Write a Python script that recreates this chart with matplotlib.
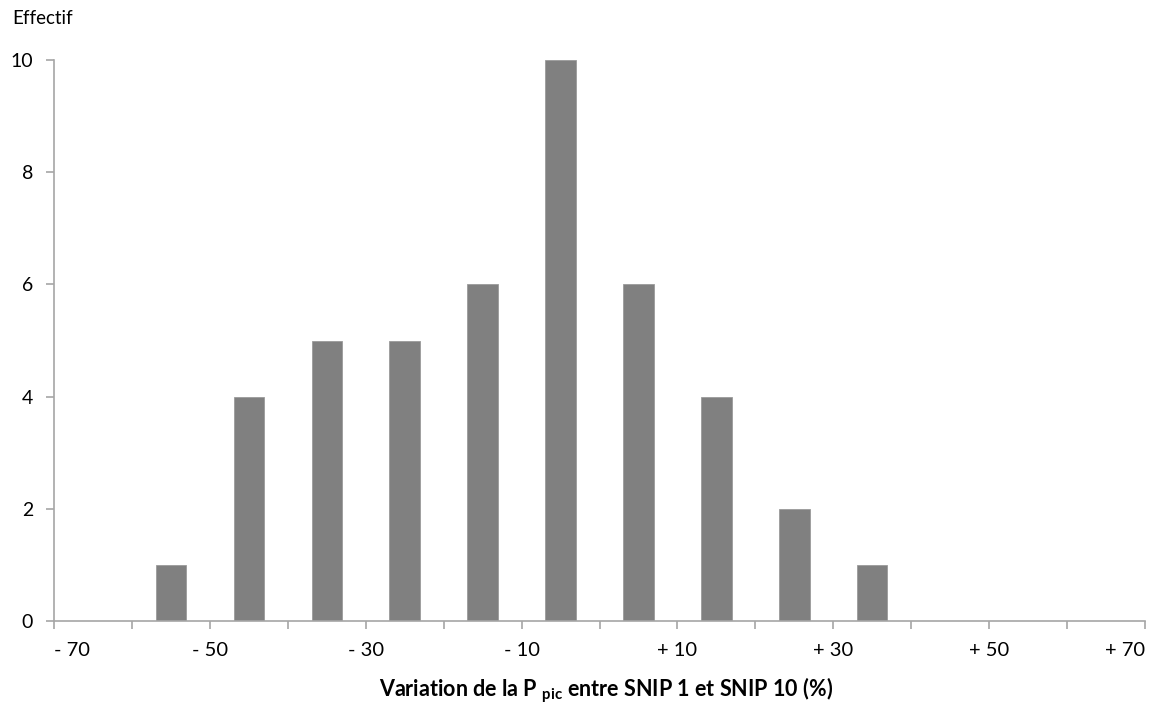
import matplotlib.pyplot as plt

plt.rcParams['font.family'] = ['Lato', 'DejaVu Sans']
plt.rcParams['mathtext.fontset'] = 'custom'
plt.rcParams['mathtext.bf'] = 'Lato:bold'
plt.rcParams['mathtext.rm'] = 'Lato'

# centres des classes (%) et effectifs
centres = [-55, -45, -35, -25, -15, -5, 5, 15, 25, 35]
effectifs = [1, 4, 5, 5, 6, 10, 6, 4, 2, 1]
etiquettes = ['- 70', '- 50', '- 30', '- 10', '+ 10', '+ 30', '+ 50', '+ 70']
pos_etiquettes = [-70, -50, -30, -10, 10, 30, 50, 70]

gris = '#a6a6a6'

fig = plt.figure(figsize=(11.64, 7.06), dpi=100)
ax = fig.add_axes([54/1164, (706-621)/706, (1145-54)/1164, (621-60)/706])

ax.bar(centres, effectifs, width=3.9, color='#808080', edgecolor='#9a9a9a', linewidth=0.6)

ax.set_xlim(-70, 70)
ax.set_ylim(0, 10)
ax.set_yticks(range(0, 11, 2))
ax.set_xticks(range(-70, 71, 10))
ax.set_xticklabels([])
ax.tick_params(axis='both', direction='out', length=6, color=gris, width=1.2,
               labelsize=14, colors='black')
ax.tick_params(axis='y', pad=9)

for s in ['top', 'right']:
    ax.spines[s].set_visible(False)
for s in ['left', 'bottom']:
    ax.spines[s].set_color(gris)
    ax.spines[s].set_linewidth(1.2)

# étiquettes de l'axe x
for x, t in zip(pos_etiquettes, etiquettes):
    ha = 'center'
    if x == -70:
        ha = 'left'
    elif x == 70:
        ha = 'right'
    ax.text(x, -0.38, t, ha=ha, va='top', fontsize=14.5)

fig.text(12/1164, 1 - 18/706, 'Effectif', ha='left', va='center', fontsize=13.5)
fig.text(606/1164, 1 - 690/706,
         r'Variation de la P $_{\mathbf{pic}}$ entre SNIP 1 et SNIP 10 (%)',
         ha='center', va='center', fontsize=15.5, fontweight='bold')

fig.savefig('out.png', dpi=100)
